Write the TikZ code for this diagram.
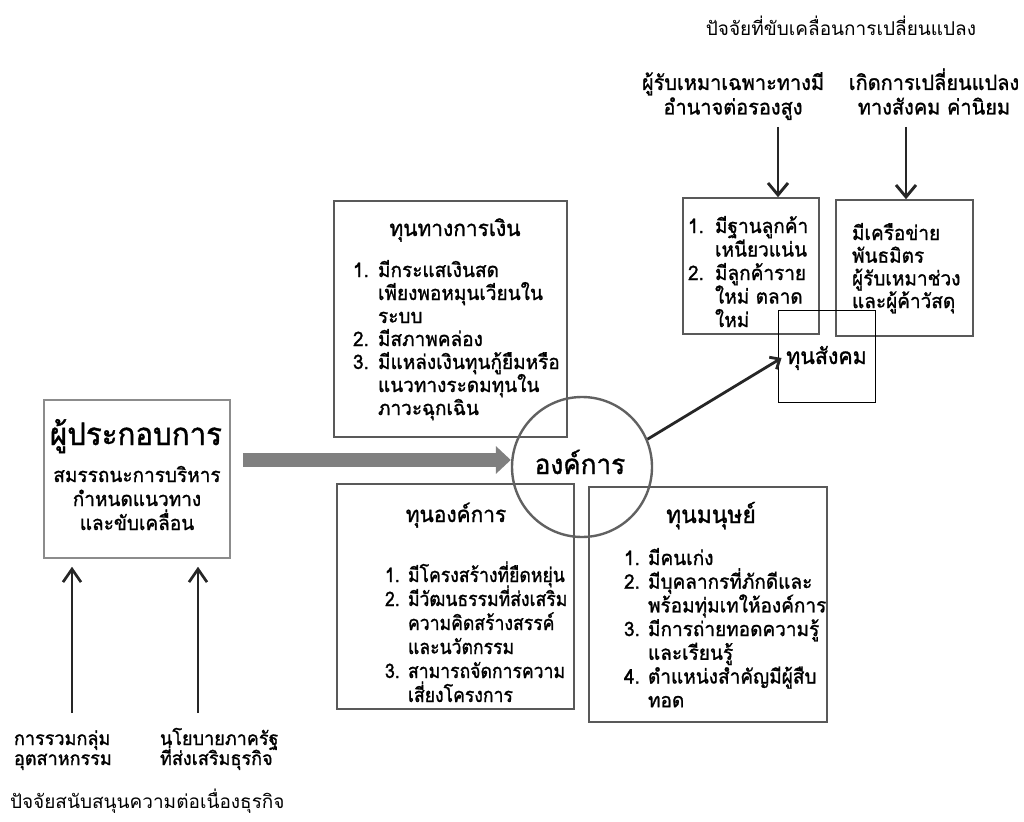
\documentclass[tikz,border=0pt]{standalone}
\usepackage{fontspec}
\setmainfont[Script=Thai, FakeStretch=0.95, FakeBold=1.2]{Loma}
\newfontfamily\thinf[Script=Thai]{Loma}
\newfontfamily\orgf[Script=Thai, FakeStretch=0.88, FakeBold=1.2]{Loma}
\usetikzlibrary{arrows.meta,calc}
\newlength{\numw}
\newcommand{\li}[1]{\makebox[\numw][l]{#1}}
\newcommand{\lc}{\hspace*{\numw}}
\newcommand{\fs}[2]{\fontsize{#1}{#2}\selectfont\lineskiplimit=-100pt\relax}
\tikzset{
  txt/.style={inner sep=0pt, outer sep=0pt, anchor=base west},
  ctxt/.style={inner sep=0pt, outer sep=0pt, anchor=base},
  box/.style={draw=black!65, line width=1.5pt, inner sep=0pt},
  lbx/.style={draw=black!45, line width=1.5pt, inner sep=0pt},
  sbx/.style={draw=black, line width=0.9pt, inner sep=0pt},
  darr/.style={draw=black!85, line width=2.9pt, -{Straight Barb[length=12pt,width=20pt]}},
  uarr/.style={draw=black!85, line width=2.7pt, -{Straight Barb[length=13pt,width=18pt]}},
  sarr/.style={draw=black!85, line width=2.8pt, -{Straight Barb[length=8pt,width=14pt]}},
  bigarr/.style={draw=black!50, line width=14pt, -{Triangle[length=15pt,width=27pt]}},
}
\begin{document}
\begin{tikzpicture}[x=1pt,y=-1pt]
\useasboundingbox (0,0) rectangle (1024,821);
% boxes
\node[lbx, minimum width=186pt, minimum height=158pt] (lbox) at (137,479) {};
\node[box, minimum width=233pt, minimum height=236pt] (fin) at (450.5,319) {};
\node[box, minimum width=237pt, minimum height=225pt] (org) at (455.5,596.5) {};
\node[box, minimum width=238pt, minimum height=235pt] (hum) at (708,604.5) {};
\node[box, minimum width=136pt, minimum height=136pt] (cust) at (751,266) {};
\node[box, minimum width=137pt, minimum height=136pt] (net) at (904.5,268) {};
\node[sbx, minimum width=97pt, minimum height=92pt] (soc) at (826.5,356) {};
\node[draw=black!62, line width=2.4pt, circle, minimum size=140pt, inner sep=0pt] (circ) at (582,467) {};
% texts
\node[ctxt] (circt) at (580,474) {\fs{27.5}{34}องค์การ};
\node[ctxt] (soct) at (826.5,364) {\fs{22.5}{28}ทุนสังคม};
\node[ctxt] (lboxt) at (136,445) {\fs{31}{36}ผู้ประกอบการ};
\node[ctxt] (lboxs) at (137,482) {\parbox[t]{190pt}{\centering\fs{20}{24}สมรรถนะการบริหาร\\กำหนดแนวทาง\\และขับเคลื่อน}};
\node[ctxt] (fint) at (455,236) {\fs{22}{26}ทุนทางการเงิน};
\node[txt] (finl) at (353,277) {\parbox[t]{220pt}{\fs{20}{23}\setlength{\numw}{25pt}%
\li{1.}มีกระแสเงินสด\\\lc เพียงพอหมุนเวียนใน\\\lc ระบบ\\\li{2.}มีสภาพคล่อง\\\li{3.}มีแหล่งเงินทุนกู้ยืมหรือ\\\lc แนวทางระดมทุนใน\\\lc ภาวะฉุกเฉิน}};
\node[ctxt] (orgt) at (456,522) {\fs{22}{26}ทุนองค์การ};
\node[txt] (orgl) at (385,582) {\parbox[t]{220pt}{\orgf\fs{20}{24}\setlength{\numw}{23pt}%
\li{1.}มีโครงสร้างที่ยืดหยุ่น\\\li{2.}มีวัฒนธรรมที่ส่งเสริม\\\lc ความคิดสร้างสรรค์\\\lc และนวัตกรรม\\\li{3.}สามารถจัดการความ\\\lc เสี่ยงโครงการ}};
\node[ctxt] (humt) at (711,523) {\fs{24}{28}ทุนมนุษย์};
\node[txt] (huml) at (624,565) {\parbox[t]{220pt}{\fs{20}{23.7}\setlength{\numw}{24pt}%
\li{1.}มีคนเก่ง\\\li{2.}มีบุคลากรที่ภักดีและ\\\lc พร้อมทุ่มเทให้องค์การ\\\li{3.}มีการถ่ายทอดความรู้\\\lc และเรียนรู้\\\li{4.}ตำแหน่งสำคัญมีผู้สืบ\\\lc ทอด}};
\node[txt] (custl) at (688,233) {\parbox[t]{130pt}{\fs{20}{23.5}\setlength{\numw}{27pt}%
\li{1.}มีฐานลูกค้า\\\lc เหนียวแน่น\\\li{2.}มีลูกค้าราย\\\lc ใหม่ ตลาด\\\lc ใหม่}};
\node[txt] (netl) at (852,240) {\parbox[t]{130pt}{\fs{20}{22.7}%
มีเครือข่าย\\พันธมิตร\\ผู้รับเหมาช่วง\\และผู้ค้าวัสดุ}};
% top labels
\node[ctxt] (hdr) at (841,36) {\thinf\fs{19}{24}ปัจจัยที่ขับเคลื่อนการเปลี่ยนแปลง};
\node[ctxt] (lab1) at (733,90) {\parbox[t]{220pt}{\centering\fs{21}{24.5}ผู้รับเหมาเฉพาะทางมี\\อำนาจต่อรองสูง}};
\node[ctxt] (lab2) at (934,90) {\parbox[t]{200pt}{\centering\fs{21}{24.5}เกิดการเปลี่ยนแปลง\\ทางสังคม ค่านิยม}};
% bottom labels
\node[txt] (bl1) at (14,745) {\parbox[t]{140pt}{\fs{19}{20}การรวมกลุ่ม\\อุตสาหกรรม}};
\node[txt] (bl2) at (160,745) {\parbox[t]{160pt}{\fs{19}{20}นโยบายภาครัฐ\\ที่ส่งเสริมธุรกิจ}};
\node[txt] (foot) at (10,808) {\thinf\fs{19}{24}ปัจจัยสนับสนุนความต่อเนื่องธุรกิจ};
% connectors
\path (lbox.east) ++(12,-19) coordinate (gas);
\draw[bigarr] (gas) -- (gas -| circ.west);
\draw[sarr] (circ.23) -- ([xshift=4pt,yshift=-2pt]soc.west);
\coordinate (d1) at (778,127);
\coordinate (d2) at (906,127);
\draw[darr] (d1) -- (d1 |- cust.north);
\draw[darr] (d2) -- (d2 |- net.north);
\coordinate (u1) at (72,713);
\coordinate (u2) at (198,713);
\draw[uarr, shorten >=8pt] (u1) -- (u1 |- lbox.south);
\draw[uarr, shorten >=8pt] (u2) -- (u2 |- lbox.south);
\end{tikzpicture}
\end{document}
